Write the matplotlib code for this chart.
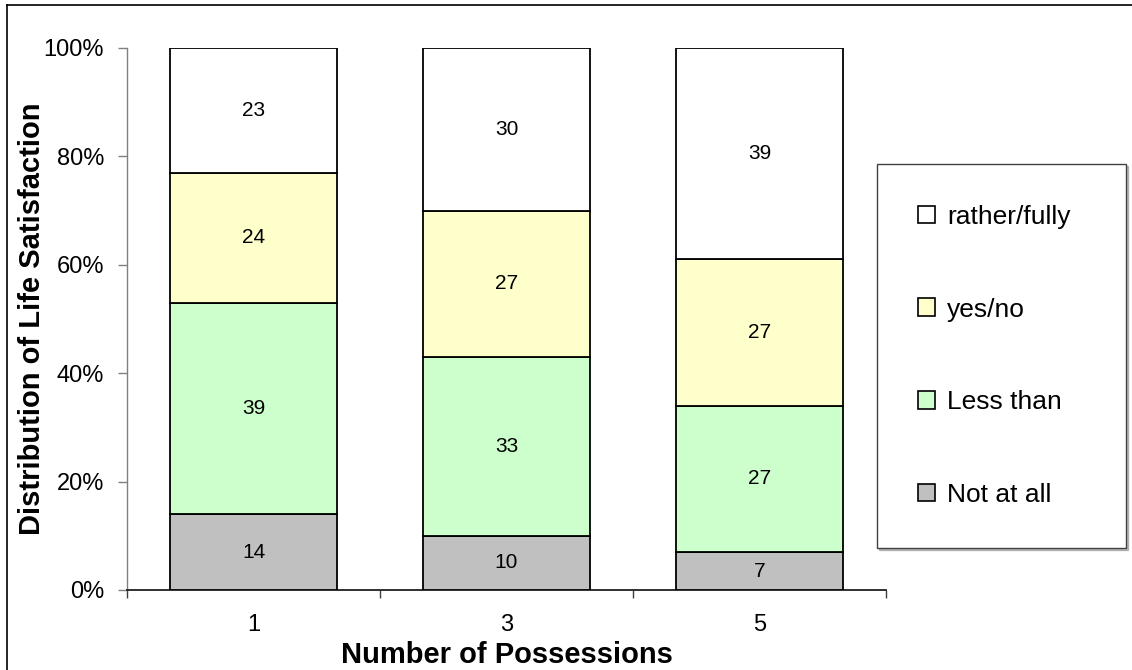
#!/usr/bin/env python3
"""
Stacked bar chart: distribution of life satisfaction by number of possessions.
"""

import matplotlib
matplotlib.use("Agg")
import matplotlib.pyplot as plt
import numpy as np
from matplotlib.lines import Line2D

# Data (percent of respondents)
possessions = ["1", "3", "5"]
not_at_all = [14, 10, 7]
less_than = [39, 33, 27]
yes_no = [24, 27, 27]
rather_fully = [23, 30, 39]

series_names = ["Not at all", "Less than", "yes/no", "rather/fully"]
series_values = [not_at_all, less_than, yes_no, rather_fully]
series_colors = ["#C0C0C0", "#CCFFCC", "#FFFFCC", "#FFFFFF"]

y_ticks = [0, 20, 40, 60, 80, 100]

plt.rcParams["font.family"] = ["Liberation Sans", "DejaVu Sans"]

W, H = 1132, 670
fig = plt.figure(figsize=(W / 100, H / 100), dpi=100)
ax = fig.add_axes([127 / W, 1 - 590 / H, 759 / W, 542 / H])

x = np.arange(len(possessions))
bottom = np.zeros(len(possessions))
handles = []
for name, vals, color in zip(series_names, series_values, series_colors):
    bars = ax.bar(x, vals, width=0.664, bottom=bottom, color=color,
                  edgecolor="black", linewidth=1.3, label=name, zorder=3)
    for xi, b, v in zip(x, bottom, vals):
        ax.text(xi, b + v / 2, str(v), ha="center", va="center",
                fontsize=15, color="black", zorder=4)
    bottom += np.array(vals)
    handles.append(bars)

ax.set_xlim(-0.5, len(possessions) - 0.5)
ax.set_ylim(0, 100)

# y axis
ax.set_yticks(y_ticks)
ax.set_yticklabels([f"{t}%" for t in y_ticks], fontsize=17)
ax.tick_params(axis="y", direction="out", length=6.5, width=1, color="#808080", pad=10)

# x axis: tick marks between categories, labels at centres
ax.set_xticks(np.arange(-0.5, len(possessions), 1.0))
ax.set_xticklabels([])
ax.set_xticks(x, minor=True)
ax.set_xticklabels(possessions, minor=True, fontsize=17)
ax.tick_params(axis="x", which="major", direction="out", length=6, width=1, color="#404040")
ax.tick_params(axis="x", which="minor", length=0, pad=17)

for side in ["top", "right"]:
    ax.spines[side].set_visible(False)
ax.spines["left"].set_color("#808080")
ax.spines["left"].set_linewidth(1)
ax.spines["bottom"].set_color("#202020")
ax.spines["bottom"].set_linewidth(1.3)

ax.set_xlabel("Number of Possessions", fontsize=21, fontweight="bold", labelpad=4)
ax.set_ylabel("Distribution of Life Satisfaction", fontsize=21, fontweight="bold")
ax.yaxis.set_label_coords((46 - 127) / 759, 0.5)

# legend on the right, top entry first
leg = fig.legend(handles[::-1], series_names[::-1],
                 loc="upper left", mode="expand",
                 bbox_to_anchor=(877 / W, 1 - 543 / H, 249 / W, 379 / H),
                 bbox_transform=fig.transFigure, borderaxespad=0,
                 fontsize=19, frameon=True, fancybox=False,
                 shadow={"ox": 1.5, "oy": -1.5, "color": "#808080"},
                 borderpad=1.55, labelspacing=2.6,
                 handlelength=0.65, handleheight=0.65, handletextpad=0.45)
leg.get_frame().set_edgecolor("#404040")
leg.get_frame().set_linewidth(1)
for p in leg.get_patches():
    p.set_linewidth(1.2)

# chart border (left and top edges visible in the reference)
fig.add_artist(Line2D([7 / W, 7 / W], [0, 1 - 5 / H], color="black", linewidth=1.2,
                      transform=fig.transFigure))
fig.add_artist(Line2D([7 / W, 1], [1 - 5 / H, 1 - 5 / H], color="black", linewidth=1.2,
                      transform=fig.transFigure))

fig.savefig("out.png", dpi=100)
